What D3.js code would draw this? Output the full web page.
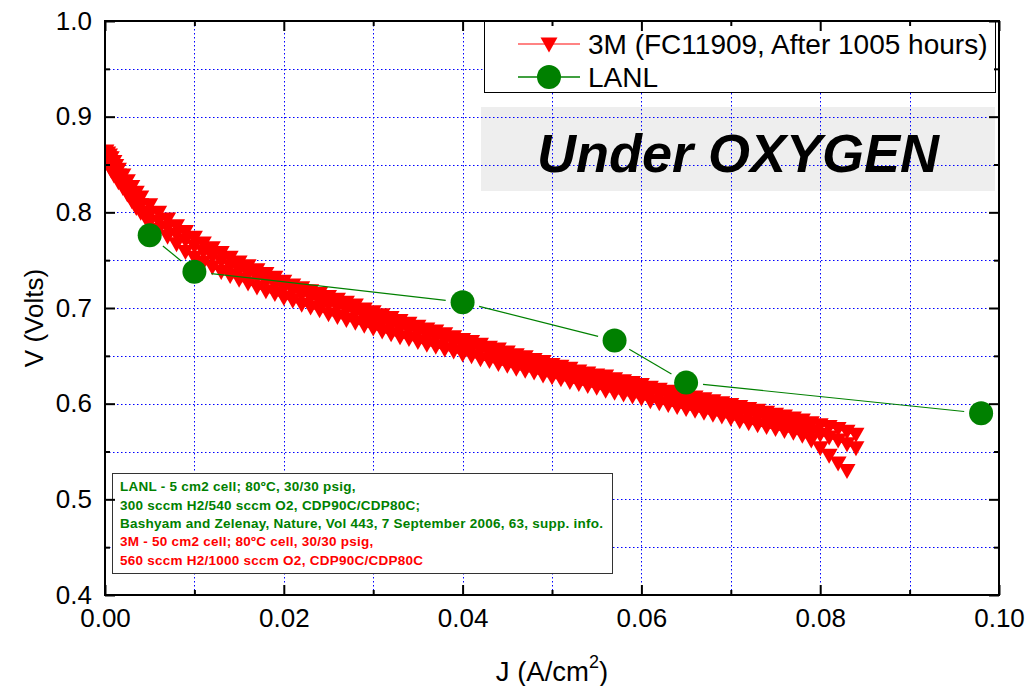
<!DOCTYPE html>
<html><head><meta charset="utf-8">
<script src="https://cdn.jsdelivr.net/npm/d3@7"></script>
<style>
body{margin:0;background:#fff;}
svg{display:block;font-family:"Liberation Sans",Arial,sans-serif;}
</style></head>
<body><svg id="c" width="1027" height="686"></svg>
<script>
// ---------------- data ----------------
const xTicks = [0.00, 0.02, 0.04, 0.06, 0.08, 0.10];
const xMinor = [0.01, 0.03, 0.05, 0.07, 0.09];
const yTicks = [0.4, 0.5, 0.6, 0.7, 0.8, 0.9, 1.0];
const yMinor = [0.45, 0.55, 0.65, 0.75, 0.85, 0.95];

// 3M scans (J in A/cm2, V in volts)
const jScanA = [0.0001,0.0003,0.0005,0.0007,0.001,0.0012,0.0015,0.002,0.0025,0.003,0.0035,0.004,0.005,0.006,0.007,0.008,0.009,0.010,0.011,0.012,0.013,0.014,0.015,0.016,0.017,0.018,0.019,0.020,0.021,0.022,0.023,0.024,0.025,0.026,0.027,0.028,0.029,0.030,0.031,0.032,0.033,0.034,0.035,0.036,0.037,0.038,0.039,0.040,0.041,0.042,0.043,0.044,0.045,0.046,0.047,0.048,0.049,0.050,0.051,0.052,0.053,0.054,0.055,0.056,0.057,0.058,0.059,0.060,0.061,0.062,0.063,0.064,0.065,0.066,0.067,0.068,0.069,0.070,0.071,0.072,0.073,0.074,0.075,0.076,0.077,0.078,0.079,0.080,0.081,0.082,0.083,0.084];
const vScanA = [0.863,0.861,0.859,0.856,0.852,0.848,0.844,0.838,0.832,0.826,0.820,0.815,0.807,0.799,0.792,0.785,0.779,0.773,0.767,0.762,0.757,0.752,0.747,0.743,0.739,0.735,0.731,0.727,0.723,0.720,0.717,0.714,0.711,0.708,0.705,0.702,0.698,0.695,0.692,0.689,0.686,0.683,0.680,0.677,0.675,0.672,0.669,0.666,0.664,0.661,0.658,0.656,0.653,0.650,0.648,0.645,0.643,0.640,0.638,0.636,0.633,0.631,0.629,0.628,0.625,0.623,0.621,0.619,0.616,0.614,0.612,0.610,0.608,0.606,0.604,0.602,0.600,0.598,0.596,0.594,0.592,0.590,0.588,0.586,0.584,0.582,0.579,0.577,0.575,0.573,0.570,0.567];

const jScanB = [0.0005,0.001,0.0015,0.002,0.003,0.004,0.005,0.006,0.007,0.008,0.009,0.010,0.011,0.012,0.013,0.014,0.015,0.016,0.017,0.018,0.019,0.020,0.021,0.022,0.023,0.024,0.025,0.026,0.027,0.028,0.029,0.030,0.031,0.032,0.033,0.034,0.035,0.036,0.037,0.038,0.039,0.040,0.041,0.042,0.043,0.044,0.045,0.046,0.047,0.048,0.049,0.050,0.051,0.052,0.053,0.054,0.055,0.056,0.057,0.058,0.059,0.060,0.061,0.062,0.063,0.064,0.065,0.066,0.067,0.068,0.069,0.070,0.071,0.072,0.073,0.074,0.075,0.076,0.077,0.078,0.079,0.080,0.081,0.082,0.083,0.084];
const vScanB = [0.856,0.845,0.838,0.831,0.818,0.807,0.797,0.790,0.783,0.776,0.770,0.764,0.758,0.753,0.748,0.743,0.739,0.735,0.731,0.727,0.724,0.720,0.717,0.713,0.710,0.706,0.703,0.700,0.697,0.694,0.690,0.687,0.684,0.681,0.678,0.676,0.673,0.670,0.668,0.665,0.663,0.660,0.657,0.655,0.652,0.650,0.647,0.644,0.642,0.640,0.637,0.634,0.632,0.630,0.627,0.625,0.623,0.621,0.618,0.616,0.614,0.612,0.610,0.608,0.606,0.604,0.602,0.600,0.598,0.596,0.594,0.592,0.589,0.587,0.585,0.583,0.581,0.579,0.577,0.574,0.570,0.567,0.564,0.561,0.557,0.553];

const jScanC = [0.0002,0.0005,0.0007,0.001,0.0015,0.002,0.0025,0.003,0.0035,0.004,0.0045,0.005,0.006,0.007,0.008,0.009,0.010,0.011,0.012,0.013,0.014,0.015,0.016,0.017,0.018,0.019,0.020,0.021,0.022,0.023,0.024,0.025,0.026,0.027,0.028,0.029,0.030,0.031,0.032,0.033,0.034,0.035,0.036,0.037,0.038,0.039,0.040,0.041,0.042,0.043,0.044,0.045,0.046,0.047,0.048,0.049,0.050,0.051,0.052,0.053,0.054,0.055,0.056,0.057,0.058,0.059,0.060,0.061,0.062,0.063,0.064,0.065,0.066,0.067,0.068,0.069,0.070,0.071,0.072,0.073,0.074,0.075,0.076,0.077,0.078,0.079,0.080,0.081,0.082,0.083];
const vScanC = [0.853,0.847,0.843,0.838,0.831,0.825,0.818,0.811,0.804,0.799,0.794,0.789,0.781,0.774,0.766,0.758,0.752,0.747,0.742,0.737,0.733,0.729,0.725,0.721,0.717,0.714,0.710,0.707,0.703,0.700,0.697,0.693,0.690,0.687,0.684,0.681,0.678,0.675,0.672,0.669,0.667,0.664,0.661,0.659,0.656,0.654,0.651,0.649,0.646,0.644,0.641,0.639,0.636,0.634,0.632,0.629,0.627,0.625,0.622,0.620,0.618,0.616,0.613,0.611,0.609,0.607,0.605,0.602,0.600,0.598,0.596,0.594,0.592,0.590,0.588,0.586,0.584,0.581,0.579,0.577,0.575,0.573,0.571,0.569,0.566,0.561,0.553,0.545,0.537,0.529];

// LANL
const jLANL = [0.005, 0.010, 0.040, 0.057, 0.065, 0.098];
const vLANL = [0.776, 0.738, 0.706, 0.666, 0.622, 0.590];

const legendLabels = ["3M (FC11909, After 1005 hours)", "LANL"];
const titleText = "Under OXYGEN";
const noteGreen = ["LANL - 5 cm2 cell; 80ºC, 30/30 psig,",
  "300 sccm H2/540 sccm O2, CDP90C/CDP80C;",
  "Bashyam and Zelenay, Nature, Vol 443, 7 September 2006, 63, supp. info."];
const noteRed = ["3M - 50 cm2 cell; 80ºC cell, 30/30 psig,",
  "560 sccm H2/1000 sccm O2, CDP90C/CDP80C"];

// ---------------- drawing ----------------
const RED = "#ff0000", GREEN = "#008000";
const svg = d3.select("#c");
const L = 105, R = 999, T = 21, B = 595;
const x = d3.scaleLinear().domain([0, 0.1]).range([L, R]);
const y = d3.scaleLinear().domain([0.4, 1.0]).range([B, T]);

svg.append("defs").append("clipPath").attr("id", "plotclip")
  .append("rect").attr("x", L).attr("y", T).attr("width", R - L).attr("height", B - T);

svg.append("rect").attr("width",1027).attr("height",686).attr("fill","#fff");

// gray title box (under grid)
svg.append("rect").attr("x", 481).attr("y", 107).attr("width", 514).attr("height", 84).attr("fill", "#eeeeee");

// grid
const grid = svg.append("g");
const allX = xTicks.concat(xMinor).filter(v => v > 0 && v < 0.1);
const allY = yTicks.concat(yMinor).filter(v => v > 0.4 && v < 1.0);
grid.selectAll("line.gx").data(allX).join("line")
  .attr("x1", d => Math.round(x(d)) + 0.5).attr("x2", d => Math.round(x(d)) + 0.5)
  .attr("y1", T).attr("y2", B)
  .attr("stroke", "#0000ff").attr("stroke-width", 1).attr("stroke-dasharray", "1.5,2.5");
grid.selectAll("line.gy").data(allY).join("line")
  .attr("y1", d => Math.round(y(d)) + 0.5).attr("y2", d => Math.round(y(d)) + 0.5)
  .attr("x1", L).attr("x2", R)
  .attr("stroke", "#0000ff").attr("stroke-width", 1).attr("stroke-dasharray", "1.5,2.5");

// title text
svg.append("text").attr("x", 738).attr("y", 172).attr("text-anchor", "middle")
  .attr("font-size", 54).attr("font-weight", "bold").attr("font-style", "italic")
  .attr("fill", "#000").text(titleText);

// 3M scans
const tri = "M-8.5,-7.5L8.5,-7.5L0,7.5Z";
const scans = [[jScanA, vScanA], [jScanB, vScanB], [jScanC, vScanC]];
const line = d3.line().x(d => x(d[0])).y(d => y(d[1]));
const redG = svg.append("g").attr("clip-path", "url(#plotclip)");
scans.forEach(([js, vs]) => {
  const pts = js.map((j, i) => [j, vs[i]]);
  redG.append("path").attr("d", line(pts)).attr("fill", "none").attr("stroke", RED).attr("stroke-width", 1);
  redG.append("g").selectAll("path").data(pts).join("path")
    .attr("d", tri).attr("transform", d => `translate(${x(d[0])},${y(d[1])})`)
    .attr("fill", RED);
});

// LANL line with gaps and circles
const lanl = jLANL.map((j, i) => [x(j), y(vLANL[i])]);
const rC = 12, gap = rC + 5;
const greenG = svg.append("g");
for (let i = 0; i < lanl.length - 1; i++) {
  const [x1, y1] = lanl[i], [x2, y2] = lanl[i + 1];
  const dx = x2 - x1, dy = y2 - y1, len = Math.hypot(dx, dy);
  const ux = dx / len, uy = dy / len;
  greenG.append("line")
    .attr("x1", x1 + ux * gap).attr("y1", y1 + uy * gap)
    .attr("x2", x2 - ux * gap).attr("y2", y2 - uy * gap)
    .attr("stroke", GREEN).attr("stroke-width", 1.2);
}
greenG.selectAll("circle").data(lanl).join("circle")
  .attr("cx", d => d[0]).attr("cy", d => d[1]).attr("r", rC).attr("fill", GREEN);

// annotation box
const note = svg.append("g");
note.append("rect").attr("x", 112.5).attr("y", 473.5).attr("width", 500).attr("height", 100)
  .attr("fill", "#fff").attr("stroke", "#333").attr("stroke-width", 1);
const noteLines = noteGreen.map(t => [t, GREEN]).concat(noteRed.map(t => [t, RED]));
const noteBase = [491, 509.5, 528, 546, 564.5];
note.selectAll("text").data(noteLines).join("text")
  .attr("x", 120).attr("y", (d, i) => noteBase[i])
  .attr("font-size", 13.5).attr("letter-spacing", 0.25).attr("font-weight", "bold")
  .attr("fill", d => d[1]).text(d => d[0]);

// legend
const leg = svg.append("g");
leg.append("rect").attr("x", 484.5).attr("y", 21.5).attr("width", 511).attr("height", 71)
  .attr("fill", "#fff").attr("stroke", "#000").attr("stroke-width", 1);
const legY = [44, 77];
leg.append("line").attr("x1", 518).attr("x2", 580).attr("y1", legY[0]).attr("y2", legY[0])
  .attr("stroke", "#ff5a5a").attr("stroke-width", 1.5);
leg.append("path").attr("d", tri).attr("transform", `translate(549,${legY[0] + 1})`).attr("fill", RED);
leg.append("line").attr("x1", 518).attr("x2", 580).attr("y1", legY[1]).attr("y2", legY[1])
  .attr("stroke", GREEN).attr("stroke-width", 1.5);
leg.append("circle").attr("cx", 549).attr("cy", legY[1]).attr("r", 12).attr("fill", GREEN);
leg.selectAll("text").data(legendLabels).join("text")
  .attr("x", 588).attr("y", (d, i) => legY[i] + 10)
  .attr("font-size", 28).attr("fill", "#000").text(d => d);

// axes
const axG = svg.append("g");
axG.append("g").attr("transform", `translate(0,${B})`)
  .call(d3.axisBottom(x).tickValues(xTicks).tickSize(-10).tickPadding(13.5).tickFormat(d3.format(".2f")));
axG.append("g").attr("transform", `translate(0,${B})`)
  .call(d3.axisBottom(x).tickValues(xMinor).tickSize(-5).tickFormat(""));
axG.append("g").attr("transform", `translate(${L},0)`)
  .call(d3.axisLeft(y).tickValues(yTicks).tickSize(-10).tickPadding(13).tickFormat(d3.format(".1f")));
axG.append("g").attr("transform", `translate(${L},0)`)
  .call(d3.axisLeft(y).tickValues(yMinor).tickSize(-5).tickFormat(""));
axG.append("g").attr("transform", `translate(0,${T})`)
  .call(d3.axisTop(x).tickValues(xTicks).tickSize(-10).tickFormat(""));
axG.append("g").attr("transform", `translate(0,${T})`)
  .call(d3.axisTop(x).tickValues(xMinor).tickSize(-5).tickFormat(""));
axG.append("g").attr("transform", `translate(${R},0)`)
  .call(d3.axisRight(y).tickValues(yTicks).tickSize(-10).tickFormat(""));
axG.append("g").attr("transform", `translate(${R},0)`)
  .call(d3.axisRight(y).tickValues(yMinor).tickSize(-5).tickFormat(""));
axG.selectAll(".domain").remove();
axG.selectAll(".tick line").attr("stroke", "#000").attr("stroke-width", 2);
axG.selectAll(".tick text").attr("font-size", 26).attr("fill", "#000")
  .attr("font-family", "'Liberation Sans',Arial,sans-serif");
axG.append("rect").attr("x", L).attr("y", T).attr("width", R - L).attr("height", B - T)
  .attr("fill", "none").attr("stroke", "#000").attr("stroke-width", 2);

// axis titles
const xt = svg.append("text").attr("x", 552).attr("y", 681).attr("text-anchor", "middle")
  .attr("font-size", 27.5).attr("fill", "#000");
xt.append("tspan").text("J (A/cm");
xt.append("tspan").attr("font-size", 18).attr("dy", -13).text("2");
xt.append("tspan").attr("dy", 13).text(")");
svg.append("text").attr("transform", "translate(43,318) rotate(-90)").attr("text-anchor", "middle")
  .attr("font-size", 26).attr("fill", "#000").text("V (Volts)");
</script></body></html>
